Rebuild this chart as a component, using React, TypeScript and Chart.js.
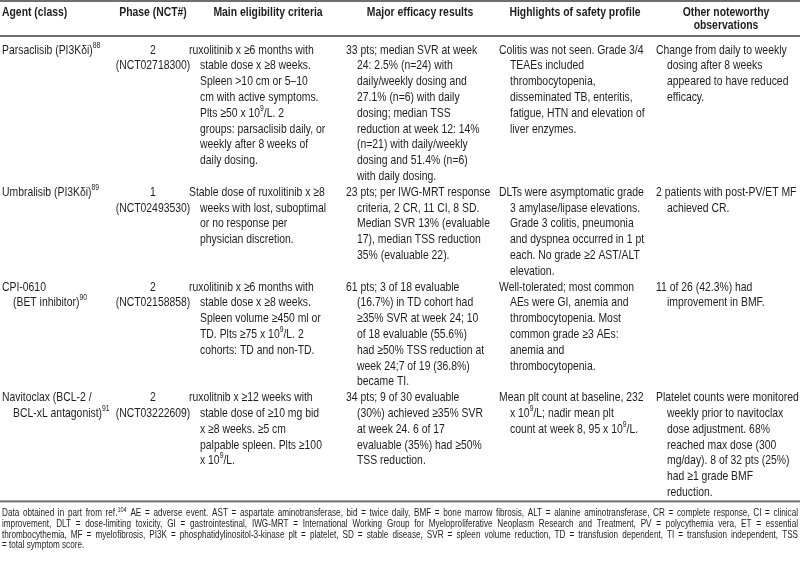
import React, { useEffect, useRef } from "react";
import { Chart, registerables } from "chart.js";

Chart.register(...registerables);

// ---------- DATA ----------
const headers: string[][] = [
  ["Agent (class)"],
  ["Phase (NCT#)"],
  ["Main eligibility criteria"],
  ["Major efficacy results"],
  ["Highlights of safety profile"],
  ["Other noteworthy", "observations"],
];

const agents: string[][] = [
  ["Parsaclisib (PI3Kδi)^{88}"],
  ["Umbralisib (PI3Kδi)^{89}"],
  ["CPI-0610", "(BET inhibitor)^{90}"],
  ["Navitoclax (BCL-2 /", "BCL-xL antagonist)^{91}"],
];

const phases: string[] = ["2", "1", "2", "2"];
const nctIds: string[] = ["(NCT02718300)", "(NCT02493530)", "(NCT02158858)", "(NCT03222609)"];

const eligibility: string[][] = [
  [
    "ruxolitinib x ≥6 months with",
    "stable dose x ≥8 weeks.",
    "Spleen >10 cm or 5–10",
    "cm with active symptoms.",
    "Plts ≥50 x 10^{9}/L. 2",
    "groups: parsaclisib daily, or",
    "weekly after 8 weeks of",
    "daily dosing.",
  ],
  [
    "Stable dose of ruxolitinib x ≥8",
    "weeks with lost, suboptimal",
    "or no response per",
    "physician discretion.",
  ],
  [
    "ruxolitinib x ≥6 months with",
    "stable dose x ≥8 weeks.",
    "Spleen volume ≥450 ml or",
    "TD. Plts ≥75 x 10^{9}/L. 2",
    "cohorts: TD and non-TD.",
  ],
  [
    "ruxolitnib x ≥12 weeks with",
    "stable dose of ≥10 mg bid",
    "x ≥8 weeks. ≥5 cm",
    "palpable spleen. Plts ≥100",
    "x 10^{9}/L.",
  ],
];

const efficacy: string[][] = [
  [
    "33 pts; median SVR at week",
    "24: 2.5% (n=24) with",
    "daily/weekly dosing and",
    "27.1% (n=6) with daily",
    "dosing; median TSS",
    "reduction at week 12: 14%",
    "(n=21) with daily/weekly",
    "dosing and 51.4% (n=6)",
    "with daily dosing.",
  ],
  [
    "23 pts; per IWG-MRT response",
    "criteria, 2 CR, 11 CI, 8 SD.",
    "Median SVR 13% (evaluable",
    "17), median TSS reduction",
    "35% (evaluable 22).",
  ],
  [
    "61 pts; 3 of 18 evaluable",
    "(16.7%) in TD cohort had",
    "≥35% SVR at week 24; 10",
    "of 18 evaluable (55.6%)",
    "had ≥50% TSS reduction at",
    "week 24;7 of 19 (36.8%)",
    "became TI.",
  ],
  [
    "34 pts; 9 of 30 evaluable",
    "(30%) achieved ≥35% SVR",
    "at week 24. 6 of 17",
    "evaluable (35%) had ≥50%",
    "TSS reduction.",
  ],
];

const safety: string[][] = [
  [
    "Colitis was not seen. Grade 3/4",
    "TEAEs included",
    "thrombocytopenia,",
    "disseminated TB, enteritis,",
    "fatigue, HTN and elevation of",
    "liver enzymes.",
  ],
  [
    "DLTs were asymptomatic grade",
    "3 amylase/lipase elevations.",
    "Grade 3 colitis, pneumonia",
    "and dyspnea occurred in 1 pt",
    "each. No grade ≥2 AST/ALT",
    "elevation.",
  ],
  [
    "Well-tolerated; most common",
    "AEs were GI, anemia and",
    "thrombocytopenia. Most",
    "common grade ≥3 AEs:",
    "anemia and",
    "thrombocytopenia.",
  ],
  [
    "Mean plt count at baseline, 232",
    "x 10^{9}/L; nadir mean plt",
    "count at week 8, 95 x 10^{9}/L.",
  ],
];

const observations: string[][] = [
  [
    "Change from daily to weekly",
    "dosing after 8 weeks",
    "appeared to have reduced",
    "efficacy.",
  ],
  ["2 patients with post-PV/ET MF", "achieved CR."],
  ["11 of 26 (42.3%) had", "improvement in BMF."],
  [
    "Platelet counts were monitored",
    "weekly prior to navitoclax",
    "dose adjustment. 68%",
    "reached max dose (300",
    "mg/day). 8 of 32 pts (25%)",
    "had ≥1 grade BMF",
    "reduction.",
  ],
];

const footnotes: string[] = [
  "Data obtained in part from ref.^{104} AE = adverse event. AST = aspartate aminotransferase, bid = twice daily, BMF = bone marrow fibrosis, ALT = alanine aminotransferase, CR = complete response, CI = clinical",
  "improvement, DLT = dose-limiting toxicity, GI = gastrointestinal, IWG-MRT = International Working Group for Myeloproliferative Neoplasm Research and Treatment, PV = polycythemia vera, ET = essential",
  "thrombocythemia, MF = myelofibrosis, PI3K = phosphatidylinositol-3-kinase plt = platelet, SD = stable disease, SVR = spleen volume reduction, TD = transfusion dependent, TI = transfusion independent, TSS",
  "= total symptom score.",
];

// ---------- STYLE / LAYOUT ----------
const FAMILY = "'Liberation Sans', Arial, sans-serif";
const BODY_SIZE = 13;
const SUP_SIZE = 8.5;
const SQUEEZE = 0.8;
const TEXT_COLOR = "#1e1e1e";
const RULE_COLOR = "#6e6e6e";

type ColSpec = { x: number; indent: number; align: "left" | "center" };
const COLS: ColSpec[] = [
  { x: 2, indent: 13, align: "left" },
  { x: 153, indent: 153, align: "center" },
  { x: 189, indent: 200, align: "left" },
  { x: 346, indent: 357, align: "left" },
  { x: 499, indent: 510, align: "left" },
  { x: 656, indent: 667, align: "left" },
];
const HEADER_CENTERS = [2, 153, 268, 420, 575, 726];

type Seg = { t: string; sup: boolean };
function parseRich(s: string): Seg[] {
  const out: Seg[] = [];
  const re = /\^\{([^}]*)\}/g;
  let last = 0;
  let m: RegExpExecArray | null;
  while ((m = re.exec(s))) {
    if (m.index > last) out.push({ t: s.slice(last, m.index), sup: false });
    out.push({ t: m[1], sup: true });
    last = re.lastIndex;
  }
  if (last < s.length) out.push({ t: s.slice(last), sup: false });
  return out;
}

function fontFor(sup: boolean, bold: boolean, size: number, supSize: number) {
  return `${bold ? "bold " : ""}${sup ? supSize : size}px ${FAMILY}`;
}

function richWidth(ctx: CanvasRenderingContext2D, s: string, bold: boolean, size: number, supSize: number, k: number) {
  let w = 0;
  for (const seg of parseRich(s)) {
    ctx.font = fontFor(seg.sup, bold, size, supSize);
    w += ctx.measureText(seg.t).width * k;
  }
  return w;
}

function drawRich(
  ctx: CanvasRenderingContext2D,
  s: string,
  x: number,
  y: number,
  bold: boolean,
  size: number,
  supSize: number,
  k: number
) {
  let px = x;
  for (const seg of parseRich(s)) {
    ctx.font = fontFor(seg.sup, bold, size, supSize);
    const w = ctx.measureText(seg.t).width;
    ctx.save();
    ctx.translate(px, seg.sup ? y - size * 0.36 : y);
    ctx.scale(k, 1);
    ctx.fillText(seg.t, 0, 0);
    ctx.restore();
    px += w * k;
  }
}

const tablePlugin = {
  id: "tableDraw",
  afterDraw(chart: any) {
    const ctx: CanvasRenderingContext2D = chart.ctx;
    const xs = chart.scales.x;
    const ys = chart.scales.y;
    const X = (v: number) => xs.getPixelForValue(v);
    const Y = (v: number) => ys.getPixelForValue(v);

    ctx.save();
    ctx.fillStyle = "#ffffff";
    ctx.fillRect(X(0), Y(0), X(800) - X(0), Y(563) - Y(0));

    const rule = (yv: number, h: number) => {
      ctx.fillStyle = RULE_COLOR;
      ctx.fillRect(X(0), Y(yv), X(800) - X(0), h);
    };

    ctx.textBaseline = "middle";
    ctx.fillStyle = TEXT_COLOR;

    // header
    rule(0, 2);
    headers.forEach((lines, ci) => {
      lines.forEach((ln, li) => {
        const yv = 12 + li * 13.5;
        const w = richWidth(ctx, ln, true, BODY_SIZE, SUP_SIZE, SQUEEZE);
        const xv = ci === 0 ? HEADER_CENTERS[0] : HEADER_CENTERS[ci] - w / 2;
        ctx.fillStyle = TEXT_COLOR;
        drawRich(ctx, ln, X(xv), Y(yv), true, BODY_SIZE, SUP_SIZE, SQUEEZE);
      });
    });
    rule(35, 2);

    // body
    const LINE = 15.8;
    const FIRST = 50;
    let lineIndex = 0;
    for (let r = 0; r < agents.length; r++) {
      const cells: string[][] = [
        agents[r],
        [phases[r], nctIds[r]],
        eligibility[r],
        efficacy[r],
        safety[r],
        observations[r],
      ];
      cells.forEach((lines, ci) => {
        const col = COLS[ci];
        lines.forEach((ln, li) => {
          const yv = FIRST + (lineIndex + li) * LINE;
          ctx.fillStyle = TEXT_COLOR;
          if (col.align === "center") {
            const w = richWidth(ctx, ln, false, BODY_SIZE, SUP_SIZE, SQUEEZE);
            drawRich(ctx, ln, X(col.x - w / 2), Y(yv), false, BODY_SIZE, SUP_SIZE, SQUEEZE);
          } else {
            const xv = li === 0 ? col.x : col.indent;
            drawRich(ctx, ln, X(xv), Y(yv), false, BODY_SIZE, SUP_SIZE, SQUEEZE);
          }
        });
      });
      lineIndex += Math.max(...cells.map((c) => c.length));
    }
    const lastY = FIRST + (lineIndex - 1) * LINE;
    const bottom = lastY + 8;
    rule(bottom, 2);

    // footnotes (justified)
    const FS = 10.2;
    const FSUP = 7;
    const left = 2;
    const right = 798;
    footnotes.forEach((ln, i) => {
      const yv = bottom + 13 + i * 10.7;
      const words = ln.split(" ");
      const justify = i < footnotes.length - 1;
      let k = SQUEEZE;
      const spaceW = () => {
        ctx.font = fontFor(false, false, FS, FSUP);
        return ctx.measureText(" ").width * k;
      };
      let widths = words.map((w) => richWidth(ctx, w, false, FS, FSUP, k));
      let sum = widths.reduce((a, b) => a + b, 0);
      const minGap = spaceW() * 0.8;
      const avail = right - left;
      if (sum + minGap * (words.length - 1) > avail) {
        const f = avail / (sum + minGap * (words.length - 1));
        k = k * f;
        widths = words.map((w) => richWidth(ctx, w, false, FS, FSUP, k));
        sum = widths.reduce((a, b) => a + b, 0);
      }
      const gap = justify ? (avail - sum) / (words.length - 1) : spaceW();
      let xv = left;
      ctx.fillStyle = TEXT_COLOR;
      words.forEach((w, wi) => {
        drawRich(ctx, w, X(xv), Y(yv), false, FS, FSUP, k);
        xv += widths[wi] + gap;
      });
    });

    ctx.restore();
  },
};

export default function App() {
  const ref = useRef<HTMLCanvasElement | null>(null);
  useEffect(() => {
    document.body.style.margin = "0";
    const canvas = ref.current;
    if (!canvas) return;
    const chart = new Chart(canvas, {
      type: "scatter",
      data: { datasets: [{ data: [], pointRadius: 0 }] },
      options: {
        animation: false,
        responsive: false,
        maintainAspectRatio: false,
        layout: { padding: 0 },
        events: [],
        scales: {
          x: { type: "linear", min: 0, max: 800, display: false },
          y: { type: "linear", min: 0, max: 563, reverse: true, display: false },
        },
        plugins: { legend: { display: false }, tooltip: { enabled: false } },
      },
      plugins: [tablePlugin],
    });
    return () => chart.destroy();
  }, []);
  return (
    <div style={{ width: 800, height: 563 }}>
      <canvas ref={ref} width={800} height={563} style={{ display: "block" }} />
    </div>
  );
}
